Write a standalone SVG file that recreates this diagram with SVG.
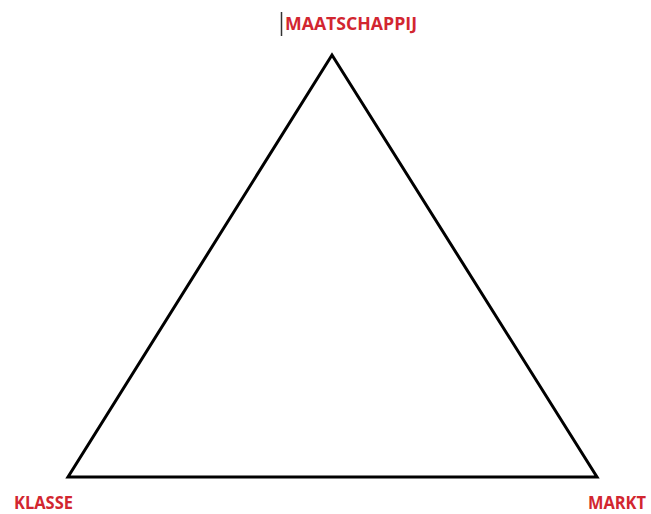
<svg xmlns="http://www.w3.org/2000/svg" width="651" height="514" viewBox="0 0 651 514">
<style>
.lbl{font-family:"Open Sans","Liberation Sans",sans-serif;font-weight:bold;font-size:18px;fill:#d22630}
</style>
<rect width="651" height="514" fill="#fff"/>
<g id="connectors">
<polygon points="332,55 68,477 597,477" fill="none" stroke="#000" stroke-width="3" stroke-linejoin="miter"/>
</g>
<g id="maatschappij">
<line x1="281.5" y1="12" x2="281.5" y2="36" stroke="#333" stroke-width="1.5"/>
<text class="lbl" x="285" y="30" textLength="132" lengthAdjust="spacingAndGlyphs">MAATSCHAPPIJ</text>
</g>
<g id="klasse">
<text class="lbl" x="14" y="509" textLength="59" lengthAdjust="spacingAndGlyphs">KLASSE</text>
</g>
<g id="markt">
<text class="lbl" x="588" y="509" style="font-size:17px" textLength="58" lengthAdjust="spacingAndGlyphs">MARKT</text>
</g>
</svg>
